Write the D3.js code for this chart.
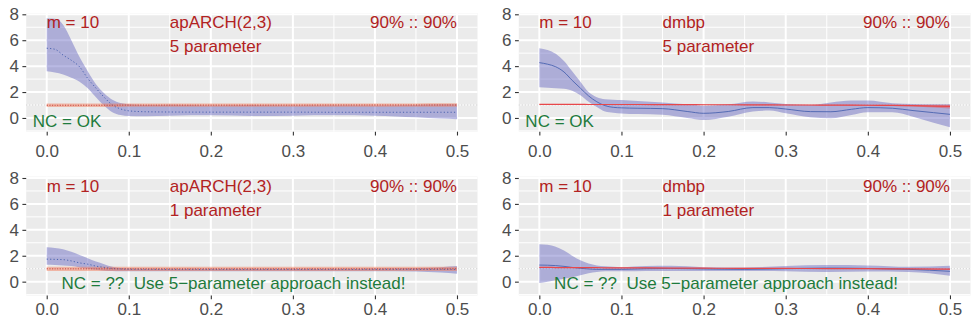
<!DOCTYPE html>
<html>
<head>
<meta charset="utf-8">
<title>Spectral ratio panels</title>
<style>
body { margin: 0; background: #fff; }
svg { display: block; font-family: "Liberation Sans", Arial, sans-serif; }
</style>
</head>
<body>
<script src="https://cdn.jsdelivr.net/npm/d3@7"></script>
<svg id="chart"></svg>
<script>

// tick values
var xTicks = [0, 0.1, 0.2, 0.3, 0.4, 0.5];
var xMinor = [0.05, 0.15, 0.25, 0.35, 0.45];
var yTicks = [0, 2, 4, 6, 8];
var yMinor = [-1, 1, 3, 5, 7];

// apARCH(2,3), 5 parameter
var aX5 = [0, 0.01, 0.02, 0.03, 0.04, 0.05, 0.06, 0.07, 0.08, 0.09, 0.1, 0.12, 0.15, 0.2, 0.25, 0.3, 0.35, 0.4, 0.45, 0.48, 0.5];
var aUp5 = [7.7, 7.65, 7.2, 6.0, 4.7, 3.6, 2.6, 1.9, 1.4, 1.15, 1.05, 1.0, 1.02, 0.97, 1.0, 0.97, 0.98, 0.97, 1.0, 1.05, 1.05];
var aMid5 = [5.38, 5.3, 4.85, 4.45, 3.95, 3.05, 2.3, 1.6, 1.0, 0.7, 0.55, 0.48, 0.46, 0.45, 0.45, 0.45, 0.44, 0.44, 0.44, 0.44, 0.44];
var aLo5 = [3.6, 3.5, 3.35, 3.1, 2.8, 2.3, 1.6, 0.95, 0.45, 0.22, 0.15, 0.13, 0.18, 0.2, 0.15, 0.18, 0.2, 0.18, 0.05, -0.05, -0.1];
var aRedUp5 = [1.12, 1.12, 1.12, 1.12, 1.12, 1.12, 1.12, 1.12, 1.12, 1.12, 1.12, 1.12, 1.12, 1.12, 1.12, 1.12, 1.12, 1.12, 1.12, 1.13, 1.14];
var aRedLo5 = [0.84, 0.84, 0.84, 0.84, 0.84, 0.84, 0.85, 0.85, 0.85, 0.85, 0.86, 0.86, 0.86, 0.86, 0.86, 0.86, 0.87, 0.87, 0.87, 0.87, 0.87];
var aRed5 = [0.98, 0.98, 0.98, 0.98, 0.98, 0.98, 0.98, 0.98, 0.98, 0.99, 0.99, 0.99, 0.99, 0.99, 0.99, 0.99, 1.0, 1.0, 1.0, 1.0, 1.0];

// dmbp, 5 parameter
var dX5 = [0, 0.01, 0.02, 0.03, 0.04, 0.05, 0.06, 0.07, 0.08, 0.09, 0.1, 0.12, 0.15, 0.18, 0.2, 0.23, 0.26, 0.28, 0.3, 0.33, 0.355, 0.38, 0.4, 0.43, 0.455, 0.48, 0.5];
var dUp5 = [5.38, 5.25, 4.95, 4.4, 3.6, 2.8, 2.0, 1.6, 1.44, 1.4, 1.38, 1.3, 1.2, 1.05, 0.95, 1.05, 1.28, 1.2, 1.08, 1.0, 1.2, 1.34, 1.34, 1.13, 1.08, 1.05, 1.05];
var dMid5 = [4.27, 4.15, 3.95, 3.55, 2.9, 2.3, 1.7, 1.25, 0.95, 0.82, 0.78, 0.75, 0.72, 0.5, 0.36, 0.5, 0.8, 0.8, 0.69, 0.49, 0.48, 0.67, 0.8, 0.75, 0.57, 0.41, 0.28];
var dLo5 = [2.37, 2.33, 2.3, 2.25, 2.1, 1.75, 1.25, 0.85, 0.5, 0.4, 0.35, 0.3, 0.25, 0.0, -0.15, 0.1, 0.5, 0.57, 0.36, 0.05, -0.03, 0.23, 0.45, 0.45, 0.1, -0.36, -0.72];
var dRedUp5 = [1.06, 1.06, 1.06, 1.06, 1.06, 1.06, 1.05, 1.05, 1.05, 1.05, 1.05, 1.05, 1.04, 1.04, 1.04, 1.04, 1.03, 1.03, 1.03, 1.02, 1.02, 1.02, 1.02, 1.02, 1.02, 1.02, 1.02];
var dRedLo5 = [1.03, 1.03, 1.03, 1.03, 1.03, 1.03, 1.02, 1.02, 1.02, 1.02, 1.02, 1.02, 1.01, 1.01, 1.0, 1.0, 0.99, 0.99, 0.98, 0.97, 0.96, 0.95, 0.94, 0.92, 0.88, 0.8, 0.74];
var dRed5 = [1.05, 1.05, 1.05, 1.05, 1.05, 1.05, 1.04, 1.04, 1.04, 1.04, 1.04, 1.04, 1.03, 1.03, 1.02, 1.02, 1.01, 1.01, 1.0, 1.0, 0.99, 0.99, 0.98, 0.97, 0.95, 0.92, 0.89];

// apARCH(2,3), 1 parameter
var aX1 = [0, 0.01, 0.02, 0.03, 0.04, 0.05, 0.06, 0.07, 0.08, 0.09, 0.1, 0.15, 0.2, 0.25, 0.3, 0.35, 0.4, 0.45, 0.48, 0.5];
var aUp1 = [2.65, 2.6, 2.5, 2.3, 2.05, 1.8, 1.55, 1.35, 1.15, 1.05, 1.02, 1.0, 1.0, 1.0, 1.0, 1.0, 1.02, 1.05, 1.12, 1.2];
var aMid1 = [1.74, 1.72, 1.7, 1.6, 1.45, 1.35, 1.2, 1.1, 1.02, 0.98, 0.96, 0.95, 0.95, 0.95, 0.95, 0.95, 0.95, 0.95, 0.95, 0.95];
var aLo1 = [1.3, 1.28, 1.25, 1.2, 1.1, 1.0, 0.92, 0.85, 0.82, 0.8, 0.8, 0.8, 0.8, 0.8, 0.8, 0.8, 0.8, 0.78, 0.7, 0.62];
var aRedUp1 = [1.15, 1.15, 1.15, 1.15, 1.15, 1.15, 1.15, 1.15, 1.15, 1.15, 1.15, 1.15, 1.15, 1.15, 1.15, 1.15, 1.15, 1.15, 1.15, 1.15];
var aRedLo1 = [0.83, 0.83, 0.83, 0.83, 0.83, 0.83, 0.83, 0.83, 0.83, 0.83, 0.83, 0.83, 0.83, 0.83, 0.83, 0.83, 0.83, 0.83, 0.83, 0.83];
var aRed1 = [0.99, 0.99, 0.99, 0.99, 0.99, 0.99, 0.99, 0.99, 0.99, 0.99, 0.99, 0.99, 0.99, 0.99, 0.99, 0.99, 0.99, 0.99, 0.99, 0.99];

// dmbp, 1 parameter
var dX1 = [0, 0.01, 0.02, 0.03, 0.04, 0.05, 0.06, 0.07, 0.08, 0.1, 0.13, 0.16, 0.2, 0.25, 0.3, 0.35, 0.4, 0.45, 0.5];
var dUp1 = [2.89, 2.85, 2.7, 2.4, 2.0, 1.65, 1.4, 1.25, 1.18, 1.12, 1.2, 1.22, 1.12, 1.1, 1.2, 1.28, 1.25, 1.15, 1.23];
var dMid1 = [1.28, 1.27, 1.24, 1.18, 1.1, 1.03, 0.98, 0.95, 0.95, 0.95, 1.0, 1.02, 0.98, 0.95, 1.0, 1.05, 1.02, 0.95, 0.8];
var dLo1 = [-0.1, 0.0, 0.1, 0.22, 0.34, 0.5, 0.65, 0.75, 0.8, 0.8, 0.82, 0.82, 0.82, 0.82, 0.8, 0.75, 0.78, 0.75, 0.46];
var dRedUp1 = [1.11, 1.11, 1.1, 1.1, 1.1, 1.09, 1.09, 1.09, 1.08, 1.08, 1.07, 1.06, 1.05, 1.04, 1.03, 1.02, 1.01, 1.0, 0.99];
var dRedLo1 = [1.09, 1.09, 1.08, 1.08, 1.08, 1.07, 1.07, 1.07, 1.06, 1.06, 1.05, 1.04, 1.03, 1.02, 1.01, 1.0, 0.98, 0.96, 0.94];
var dRed1 = [1.1, 1.1, 1.09, 1.09, 1.09, 1.08, 1.08, 1.08, 1.07, 1.07, 1.06, 1.05, 1.04, 1.03, 1.02, 1.01, 1.0, 0.98, 0.97];

var W = 971, H = 324;
var svg = d3.select("#chart").attr("width", W).attr("height", H);

var panels = [
  {left: 26.2, right: 477.5, top: 13, bottom: 131.7, lab: 22.5, model: "apARCH(2,3)", par: "5 parameter",
   xs: aX5, up: aUp5, mid: aMid5, lo: aLo5, rup: aRedUp5, rlo: aRedLo5, red: aRed5, dotted: true,
   nc: "NC = OK", ncX: -0.017, ncY: -0.67},
  {left: 518.8, right: 970.5, top: 13, bottom: 131.7, lab: 22.5, model: "dmbp", par: "5 parameter",
   xs: dX5, up: dUp5, mid: dMid5, lo: dLo5, rup: dRedUp5, rlo: dRedLo5, red: dRed5, dotted: false,
   nc: "NC = OK", ncX: -0.017, ncY: -0.67},
  {left: 26.2, right: 477.5, top: 176.7, bottom: 295.4, lab: 16.5, model: "apARCH(2,3)", par: "1 parameter",
   xs: aX1, up: aUp1, mid: aMid1, lo: aLo1, rup: aRedUp1, rlo: aRedLo1, red: aRed1, dotted: true,
   nc: "NC = ??  Use 5\u2212parameter approach instead!", ncX: 0.018, ncY: -0.56},
  {left: 518.8, right: 970.5, top: 176.7, bottom: 295.4, lab: 16.5, model: "dmbp", par: "1 parameter",
   xs: dX1, up: dUp1, mid: dMid1, lo: dLo1, rup: dRedUp1, rlo: dRedLo1, red: dRed1, dotted: false,
   nc: "NC = ??  Use 5\u2212parameter approach instead!", ncX: 0.018, ncY: -0.56}
];

var textRed = "#B22222", textGreen = "#1E7B3C", tickGrey = "#4D4D4D";

panels.forEach(function(p) {
  var x = d3.scaleLinear().domain([-0.025, 0.525]).range([p.left, p.right]);
  var y = d3.scaleLinear().domain([-1.06, 8.1]).range([p.bottom, p.top]);
  var g = svg.append("g");

  g.append("rect")
    .attr("x", p.left).attr("y", p.top)
    .attr("width", p.right - p.left).attr("height", p.bottom - p.top)
    .attr("fill", "#EBEBEB");

  // minor grid
  g.selectAll(".mx").data(xMinor).enter().append("line")
    .attr("x1", d => x(d)).attr("x2", d => x(d))
    .attr("y1", p.top).attr("y2", p.bottom)
    .attr("stroke", "#fff").attr("stroke-width", 1);
  g.selectAll(".my").data(yMinor).enter().append("line")
    .attr("x1", p.left).attr("x2", p.right)
    .attr("y1", d => y(d)).attr("y2", d => y(d))
    .attr("stroke", "#fff").attr("stroke-width", 1);
  // major grid
  g.selectAll(".gx").data(xTicks).enter().append("line")
    .attr("x1", d => x(d)).attr("x2", d => x(d))
    .attr("y1", p.top).attr("y2", p.bottom)
    .attr("stroke", "#fff").attr("stroke-width", 2);
  g.selectAll(".gy").data(yTicks).enter().append("line")
    .attr("x1", p.left).attr("x2", p.right)
    .attr("y1", d => y(d)).attr("y2", d => y(d))
    .attr("stroke", "#fff").attr("stroke-width", 2);

  // reference line at 1
  g.append("line")
    .attr("x1", p.left).attr("x2", p.right)
    .attr("y1", y(1)).attr("y2", y(1))
    .attr("stroke", "#BDBDBD").attr("stroke-width", 0.8)
    .attr("stroke-dasharray", "1,2");

  var pts = p.xs.map(function(v, i) {
    return {x: v, up: p.up[i], mid: p.mid[i], lo: p.lo[i], rup: p.rup[i], rlo: p.rlo[i], red: p.red[i]};
  });

  var band = d3.area().curve(d3.curveMonotoneX)
    .x(d => x(d.x)).y0(d => y(d.lo)).y1(d => y(d.up));
  g.append("path").datum(pts).attr("d", band)
    .attr("fill", "#5050B8").attr("fill-opacity", 0.4);

  var rband = d3.area().curve(d3.curveMonotoneX)
    .x(d => x(d.x)).y0(d => y(d.rlo)).y1(d => y(d.rup));
  g.append("path").datum(pts).attr("d", rband)
    .attr("fill", p.dotted ? "#F4805F" : "#E8474A")
    .attr("fill-opacity", p.dotted ? 0.5 : 0.45);

  var midLine = d3.line().curve(d3.curveMonotoneX).x(d => x(d.x)).y(d => y(d.mid));
  g.append("path").datum(pts).attr("d", midLine)
    .attr("fill", "none").attr("stroke", "#4A63B0")
    .attr("stroke-width", p.dotted ? 1 : 0.9)
    .attr("stroke-dasharray", p.dotted ? "1.2,2.2" : null);

  var redLine = d3.line().curve(d3.curveMonotoneX).x(d => x(d.x)).y(d => y(d.red));
  g.append("path").datum(pts).attr("d", redLine)
    .attr("fill", "none").attr("stroke", p.dotted ? "#C8463C" : "#E8474A")
    .attr("stroke-width", p.dotted ? 1 : 1.2)
    .attr("stroke-dasharray", p.dotted ? "1.2,1.4" : null);

  // axes
  var xa = g.append("g").attr("transform", "translate(0," + p.bottom + ")")
    .call(d3.axisBottom(x).tickValues(xTicks).tickFormat(d3.format(".1f")).tickSize(3.8).tickPadding(p.lab - 13));
  var ya = g.append("g").attr("transform", "translate(" + p.left + ",0)")
    .call(d3.axisLeft(y).tickValues(yTicks).tickSize(3.8).tickPadding(3.5));
  [xa, ya].forEach(function(a) {
    a.select(".domain").remove();
    a.selectAll("line").attr("stroke", "#333").attr("stroke-width", 1.1);
    a.selectAll("text").attr("fill", tickGrey).style("font-size", "17px")
      .style("font-family", "'Liberation Sans', Arial, sans-serif");
  });

  // annotations
  var ann = g.append("g").style("font-size", "17px");
  ann.append("text").attr("x", x(0)).attr("y", y(6.95)).attr("fill", textRed).text("m = 10");
  ann.append("text").attr("x", x(0.15)).attr("y", y(6.95)).attr("fill", textRed).text(p.model);
  ann.append("text").attr("x", x(0.15)).attr("y", y(5.1)).attr("fill", textRed).text(p.par);
  ann.append("text").attr("x", x(0.5)).attr("y", y(6.95)).attr("text-anchor", "end")
    .attr("fill", textRed).text("90% :: 90%");
  ann.append("text").attr("x", x(p.ncX)).attr("y", y(p.ncY)).attr("fill", textGreen)
    .style("white-space", "pre").text(p.nc);
});

</script>
</body>
</html>
